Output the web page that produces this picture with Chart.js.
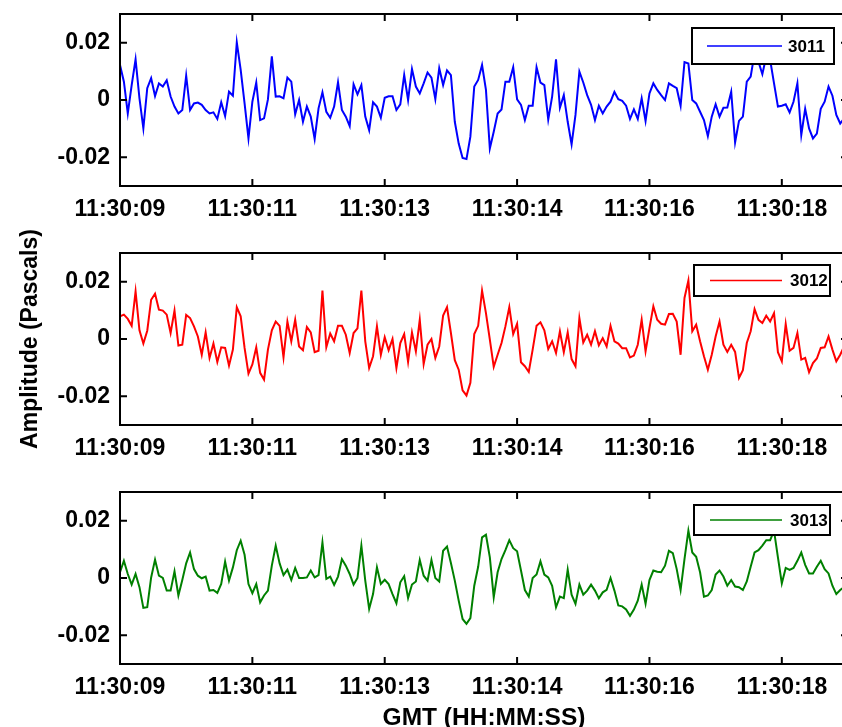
<!DOCTYPE html>
<html>
<head>
<meta charset="utf-8">
<title>Infrasound amplitude, sensors 3011-3013</title>
<script src="https://cdn.jsdelivr.net/npm/chart.js@4.4.1/dist/chart.umd.min.js"></script>
<style>
  html, body { margin: 0; padding: 0; background: #fff; overflow: hidden; width: 842px; height: 727px; }
  canvas { position: absolute; left: 0; top: 0; }
</style>
</head>
<body>
<canvas id="panel3011" width="850" height="727"></canvas>
<canvas id="panel3012" width="850" height="727"></canvas>
<canvas id="panel3013" width="850" height="727"></canvas>
<script>
// Sample axis: 20 samples per second, x measured in sample index
const sampleSpan = 187;
const xTickSamples = [0, 34, 68, 102, 136, 170];
const xTickLabels = ['11:30:09', '11:30:11', '11:30:13', '11:30:14', '11:30:16', '11:30:18'];
const yTickValues = [-0.02, 0, 0.02];
const yTickLabels = ['-0.02', '0', '0.02'];
const sensorNames = ['3011', '3012', '3013'];

// Pressure amplitude (Pa) per sample
const sensor3011 = [
  0.0122, 0.0064, -0.0047, 0.0052, 0.0142, 0.0006, -0.0099, 0.0041, 0.0076, 0.0014,
  0.0058, 0.0047, 0.0069, 0.0012, -0.0023, -0.0047, -0.0035, 0.0085, -0.0035, -0.0012,
  -0.0009, -0.0017, -0.0035, -0.0047, -0.0043, -0.0066, -0.0008, -0.0056, 0.0029, 0.0015,
  0.0201, 0.0105, -0.0012, -0.0134, -0.0006, 0.0061, -0.0070, -0.0064, 0.0002, 0.0152,
  0.0012, 0.0013, 0.0006, 0.0078, 0.0064, -0.0050, 0.0000, -0.0076, -0.0023, -0.0058,
  -0.0136, -0.0029, 0.0027, -0.0041, -0.0062, -0.0023, 0.0062, -0.0035, -0.0058, -0.0091,
  0.0055, 0.0020, 0.0052, -0.0058, -0.0105, -0.0008, -0.0023, -0.0062, 0.0008, 0.0013,
  0.0013, -0.0035, -0.0015, 0.0087, 0.0000, 0.0108, 0.0047, 0.0023, 0.0058, 0.0096,
  0.0078, 0.0003, 0.0111, 0.0052, 0.0103, 0.0087, -0.0076, -0.0152, -0.0202, -0.0206,
  -0.0128, 0.0047, 0.0070, 0.0122, 0.0035, -0.0169, -0.0111, -0.0047, -0.0033, 0.0064,
  0.0064, 0.0114, 0.0002, -0.0017, -0.0070, -0.0020, -0.0020, 0.0114, 0.0061, 0.0052,
  -0.0068, 0.0012, 0.0142, -0.0027, 0.0017, -0.0076, -0.0155, -0.0052, 0.0099, 0.0061,
  0.0017, -0.0017, -0.0070, -0.0020, -0.0047, -0.0023, -0.0006, 0.0028, 0.0003, -0.0003,
  -0.0020, -0.0066, -0.0033, -0.0066, 0.0006, -0.0073, 0.0023, 0.0058, 0.0035, 0.0017,
  0.0000, 0.0058, 0.0049, 0.0041, -0.0020, 0.0132, 0.0127, 0.0000, -0.0012, -0.0041,
  -0.0070, -0.0126, -0.0058, -0.0015, -0.0058, -0.0027, -0.0026, 0.0029, -0.0148, -0.0073,
  -0.0058, 0.0064, 0.0082, 0.0163, 0.0134, 0.0090, 0.0152, 0.0140, 0.0058, -0.0023,
  -0.0020, -0.0015, -0.0043, -0.0006, 0.0058, -0.0122, -0.0031, -0.0099, -0.0134, -0.0117,
  -0.0031, -0.0006, 0.0047, 0.0015, -0.0052, -0.0082, -0.0064
];
const sensor3012 = [
  0.0079, 0.0085, 0.0070, 0.0046, 0.0166, 0.0030, -0.0016, 0.0029, 0.0137, 0.0158,
  0.0102, 0.0099, 0.0085, 0.0021, 0.0099, -0.0023, -0.0020, 0.0084, 0.0073, 0.0044,
  0.0009, -0.0055, 0.0023, -0.0066, -0.0016, -0.0080, -0.0029, -0.0031, -0.0093, -0.0037,
  0.0111, 0.0079, -0.0031, -0.0121, -0.0089, -0.0029, -0.0118, -0.0142, -0.0037, 0.0030,
  0.0061, 0.0046, -0.0064, 0.0061, -0.0008, 0.0067, -0.0026, -0.0039, 0.0042, 0.0023,
  -0.0046, -0.0041, 0.0169, -0.0029, 0.0019, -0.0008, 0.0046, 0.0046, 0.0015, -0.0049,
  0.0021, 0.0037, 0.0169, -0.0008, -0.0101, -0.0060, 0.0044, -0.0055, 0.0006, -0.0039,
  0.0000, -0.0101, -0.0014, 0.0017, -0.0080, 0.0023, -0.0043, 0.0067, -0.0087, -0.0020,
  0.0000, -0.0066, -0.0026, 0.0082, 0.0111, 0.0021, -0.0074, -0.0107, -0.0179, -0.0197,
  -0.0153, 0.0017, 0.0046, 0.0169, 0.0090, -0.0002, -0.0097, -0.0055, -0.0014, 0.0044,
  0.0111, 0.0017, 0.0053, -0.0081, -0.0095, -0.0115, -0.0037, 0.0046, 0.0058, 0.0030,
  -0.0035, -0.0008, -0.0049, 0.0027, -0.0046, 0.0023, -0.0070, -0.0095, 0.0073, -0.0012,
  0.0015, -0.0020, 0.0027, -0.0022, 0.0003, -0.0026, 0.0046, -0.0008, -0.0016, -0.0032,
  -0.0032, -0.0064, -0.0058, -0.0020, 0.0067, -0.0043, 0.0038, 0.0114, 0.0067, 0.0053,
  0.0050, 0.0087, 0.0088, 0.0061, -0.0055, 0.0143, 0.0204, 0.0027, 0.0050, -0.0008,
  -0.0060, -0.0107, -0.0055, 0.0009, 0.0061, -0.0020, -0.0045, -0.0020, -0.0045, -0.0136,
  -0.0109, -0.0014, 0.0027, 0.0104, 0.0067, 0.0056, 0.0081, 0.0061, 0.0090, -0.0046,
  -0.0078, 0.0052, -0.0041, -0.0031, 0.0021, -0.0072, -0.0066, -0.0116, -0.0084, -0.0068,
  -0.0031, -0.0029, 0.0009, -0.0037, -0.0078, -0.0055, -0.0026
];
const sensor3013 = [
  0.0020, 0.0060, 0.0014, -0.0023, 0.0014, -0.0032, -0.0104, -0.0102, 0.0002, 0.0064,
  0.0008, 0.0000, -0.0044, -0.0044, 0.0023, -0.0061, -0.0007, 0.0051, 0.0089, 0.0031,
  0.0008, -0.0001, 0.0005, -0.0044, -0.0042, -0.0052, -0.0021, 0.0057, -0.0009, 0.0037,
  0.0097, 0.0130, 0.0081, -0.0021, -0.0053, -0.0021, -0.0085, -0.0061, -0.0044, 0.0043,
  0.0113, 0.0051, 0.0010, 0.0029, -0.0007, 0.0035, 0.0000, 0.0000, 0.0002, 0.0026,
  0.0002, 0.0010, 0.0124, -0.0003, 0.0005, -0.0024, 0.0005, 0.0066, 0.0043, 0.0014,
  -0.0023, 0.0000, 0.0113, -0.0009, -0.0108, -0.0056, 0.0037, -0.0021, -0.0006, -0.0021,
  -0.0056, -0.0088, -0.0015, 0.0006, -0.0070, -0.0023, -0.0012, 0.0063, 0.0008, -0.0009,
  0.0063, 0.0000, -0.0012, 0.0095, 0.0110, 0.0052, -0.0009, -0.0079, -0.0143, -0.0160,
  -0.0140, -0.0027, 0.0039, 0.0142, 0.0151, 0.0072, -0.0067, 0.0020, 0.0066, 0.0097,
  0.0132, 0.0104, 0.0093, 0.0026, -0.0042, -0.0065, 0.0000, 0.0012, 0.0058, 0.0012,
  0.0002, -0.0027, -0.0102, -0.0065, -0.0070, 0.0029, -0.0058, -0.0090, -0.0023, -0.0058,
  -0.0044, -0.0023, -0.0044, -0.0071, -0.0050, -0.0041, 0.0000, -0.0044, -0.0096, -0.0099,
  -0.0110, -0.0132, -0.0110, -0.0079, -0.0023, -0.0090, -0.0007, 0.0026, 0.0022, 0.0020,
  0.0043, 0.0095, 0.0087, 0.0031, -0.0042, 0.0066, 0.0165, 0.0089, 0.0074, 0.0020,
  -0.0065, -0.0061, -0.0042, 0.0012, 0.0026, 0.0005, -0.0027, -0.0007, -0.0030, -0.0032,
  -0.0042, -0.0012, 0.0039, 0.0089, 0.0097, 0.0113, 0.0132, 0.0132, 0.0165, 0.0072,
  -0.0019, 0.0035, 0.0028, 0.0035, 0.0060, 0.0089, 0.0046, 0.0016, 0.0016, 0.0039,
  0.0060, 0.0031, 0.0016, -0.0027, -0.0056, -0.0042, -0.0032
];

const FONT_FAMILY = '"Liberation Sans", Arial, Helvetica, sans-serif';

// Axes box with inward tick marks, drawn from the chart's own scales
const axesBox = {
  id: 'axesBox',
  afterDraw(chart) {
    const { ctx, chartArea: a, scales: { x, y } } = chart;
    ctx.save();
    ctx.strokeStyle = '#000';
    ctx.lineWidth = 2;
    ctx.strokeRect(a.left, a.top, a.right - a.left, a.bottom - a.top);
    ctx.beginPath();
    x.ticks.forEach(t => {
      const px = x.getPixelForValue(t.value);
      ctx.moveTo(px, a.bottom); ctx.lineTo(px, a.bottom - 7);
      ctx.moveTo(px, a.top); ctx.lineTo(px, a.top + 7);
    });
    y.ticks.forEach(t => {
      const py = y.getPixelForValue(t.value);
      ctx.moveTo(a.left, py); ctx.lineTo(a.left + 7, py);
      ctx.moveTo(a.right, py); ctx.lineTo(a.right - 7, py);
    });
    ctx.stroke();
    ctx.restore();
  }
};

// Boxed legend in the upper right of each panel
const boxLegend = {
  id: 'boxLegend',
  afterDraw(chart, args, o) {
    const { ctx, chartArea: a } = chart;
    const ds = chart.data.datasets[0];
    const x0 = a.right - o.right - o.width;
    const y0 = a.top + o.top;
    const cy = y0 + o.height / 2;
    ctx.save();
    ctx.fillStyle = '#fff';
    ctx.fillRect(x0, y0, o.width, o.height);
    ctx.strokeStyle = '#000';
    ctx.lineWidth = 2;
    ctx.strokeRect(x0, y0, o.width, o.height);
    ctx.strokeStyle = ds.borderColor;
    ctx.lineWidth = 1.6;
    ctx.beginPath();
    ctx.moveTo(x0 + o.lineStart, cy);
    ctx.lineTo(x0 + o.lineStart + o.lineLength, cy);
    ctx.stroke();
    ctx.fillStyle = '#000';
    ctx.font = 'bold 17px ' + FONT_FAMILY;
    ctx.textAlign = 'left';
    ctx.textBaseline = 'middle';
    ctx.fillText(ds.label, x0 + o.textStart, cy + 1);
    ctx.restore();
  }
};

function makePanel(canvasId, name, values, color, geo) {
  const tickFont = { family: FONT_FAMILY, size: 23, weight: 'bold' };
  const xTitleFont = { family: FONT_FAMILY, size: 24.5, weight: 'bold', lineHeight: 1 };
  const yTitleFont = { family: FONT_FAMILY, size: 23, weight: 'bold', lineHeight: 1 };
  return new Chart(document.getElementById(canvasId), {
    type: 'line',
    data: {
      datasets: [{
        label: name,
        data: values.map((v, i) => ({ x: i, y: v })),
        borderColor: color,
        borderWidth: 2,
        pointRadius: 0,
        tension: 0,
        fill: false
      }]
    },
    options: {
      responsive: false,
      animation: false,
      devicePixelRatio: 1,
      layout: { padding: { top: geo.top, bottom: geo.bottom, left: 0, right: 2 } },
      plugins: {
        legend: { display: false },
        tooltip: { enabled: false },
        boxLegend: geo.legend
      },
      scales: {
        x: {
          type: 'linear',
          min: 0,
          max: sampleSpan,
          grid: { display: false, drawTicks: false },
          border: { display: false },
          afterBuildTicks: s => { s.ticks = xTickSamples.map(v => ({ value: v })); },
          afterFit: s => { s.height = geo.xHeight; s.paddingLeft = 0; s.paddingRight = 0; },
          ticks: {
            autoSkip: false,
            maxRotation: 0,
            padding: 10,
            color: '#000',
            font: tickFont,
            callback: (v, i) => xTickLabels[i]
          },
          title: {
            display: !!geo.xTitle,
            text: geo.xTitle || '',
            color: '#000',
            font: xTitleFont,
            padding: { top: 0, bottom: -3 }
          }
        },
        y: {
          min: -0.03,
          max: 0.03,
          grid: { display: false, drawTicks: false },
          border: { display: false },
          afterBuildTicks: s => { s.ticks = yTickValues.map(v => ({ value: v })); },
          afterFit: s => { s.width = 120; s.paddingTop = 0; s.paddingBottom = 0; },
          ticks: {
            padding: 10,
            color: '#000',
            font: tickFont,
            callback: (v, i) => yTickLabels[i]
          },
          title: {
            display: !!geo.yTitle,
            text: geo.yTitle || '',
            color: '#000',
            font: yTitleFont,
            padding: { top: 19, bottom: 0 }
          }
        }
      }
    },
    plugins: [axesBox, boxLegend]
  });
}

makePanel('panel3011', sensorNames[0], sensor3011, '#0000ff', {
  top: 14, xHeight: 53, bottom: 488,
  legend: { right: 14, width: 142, top: 14, height: 36, lineStart: 15, lineLength: 75, textStart: 96 }
});
makePanel('panel3012', sensorNames[1], sensor3012, '#ff0000', {
  top: 253, xHeight: 53, bottom: 249, yTitle: 'Amplitude (Pascals)',
  legend: { right: 18, width: 136, top: 12, height: 31, lineStart: 16, lineLength: 72, textStart: 96 }
});
makePanel('panel3013', sensorNames[2], sensor3013, '#008000', {
  top: 492, xHeight: 63, bottom: 0, xTitle: 'GMT (HH:MM:SS)',
  legend: { right: 18, width: 136, top: 13, height: 30, lineStart: 16, lineLength: 72, textStart: 96 }
});
</script>
</body>
</html>
